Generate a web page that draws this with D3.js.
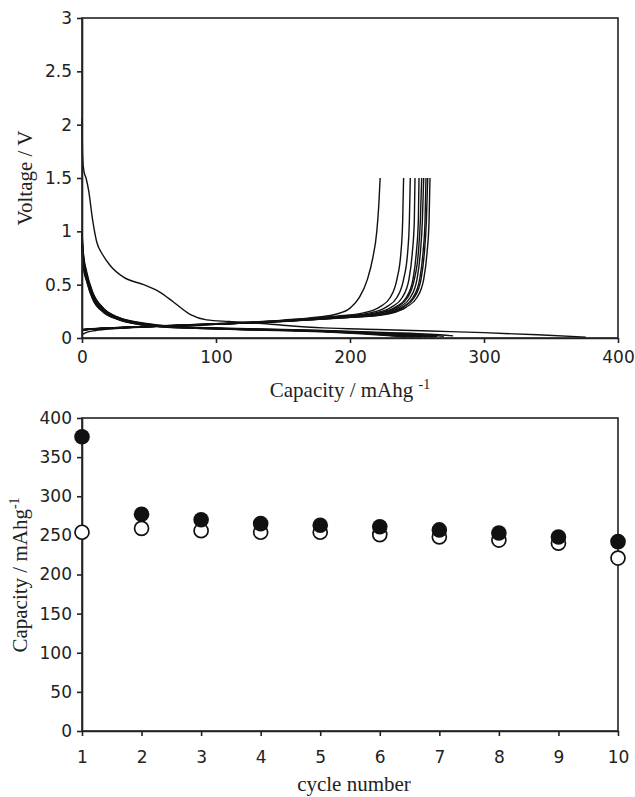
<!DOCTYPE html>
<html>
<head>
<meta charset="utf-8">
<script src="https://cdn.jsdelivr.net/npm/d3@7"></script>
<style>
  body { margin: 0; background: #fff; }
  .tick text { font-family: "DejaVu Sans", sans-serif; font-size: 17px; fill: #222; }
  .title { font-family: "Liberation Serif", "Times New Roman", serif; font-size: 21px; fill: #222; }
</style>
</head>
<body>
<div id="chart"></div>
<script>
// top panel: voltage profiles, [capacity mAh/g, voltage V]
const discharge1 = [[0,2.06],[0.5,1.7],[1.5,1.56],[3,1.5],[5,1.38],[8,1.1],[11,0.9],[15,0.79],[21,0.68],[31,0.57],[46,0.5],[58,0.43],[68,0.34],[81,0.22],[93,0.17],[110,0.155],[130,0.14],[150,0.12],[180,0.095],[220,0.08],[260,0.065],[300,0.05],[340,0.03],[376,0.008]];
const discharge2 = [[0,1.0],[1,0.8],[3.5,0.62],[8,0.43],[16,0.28],[26,0.2],[41,0.15],[58,0.12],[85,0.1],[130,0.085],[180,0.07],[230,0.05],[260,0.035],[277,0.02]];
const discharge3 = [[0,0.97],[1,0.78],[3.5,0.6],[8,0.42],[16,0.275],[26,0.197],[41,0.145],[58,0.117],[85,0.098],[130,0.083],[180,0.068],[225,0.048],[255,0.03],[270,0.015]];
const discharge4 = [[0,0.95],[1,0.76],[3.5,0.59],[8,0.41],[16,0.27],[26,0.195],[41,0.143],[58,0.115],[85,0.097],[130,0.082],[180,0.066],[220,0.047],[250,0.028],[265,0.013]];
const discharge5 = [[0,0.93],[1,0.74],[3.5,0.58],[8,0.4],[16,0.265],[26,0.19],[41,0.14],[58,0.113],[85,0.096],[130,0.081],[180,0.065],[220,0.045],[248,0.026],[263,0.012]];
const discharge6 = [[0,0.92],[1,0.72],[3.5,0.57],[8,0.39],[16,0.26],[26,0.188],[41,0.138],[58,0.112],[85,0.095],[130,0.08],[180,0.064],[220,0.044],[246,0.025],[261,0.011]];
const discharge7 = [[0,0.9],[1,0.71],[3.5,0.56],[8,0.385],[16,0.255],[26,0.185],[41,0.136],[58,0.11],[85,0.094],[130,0.079],[180,0.063],[215,0.045],[242,0.024],[257,0.01]];
const discharge8 = [[0,0.89],[1,0.7],[3.5,0.55],[8,0.38],[16,0.25],[26,0.182],[41,0.134],[58,0.108],[85,0.093],[130,0.078],[180,0.062],[215,0.043],[238,0.023],[253,0.01]];
const discharge9 = [[0,0.87],[1,0.68],[3.5,0.54],[8,0.37],[16,0.245],[26,0.18],[41,0.132],[58,0.107],[85,0.092],[130,0.077],[180,0.06],[210,0.043],[233,0.022],[248,0.009]];
const discharge10 = [[0,0.85],[1,0.66],[3.5,0.53],[8,0.36],[16,0.24],[26,0.177],[41,0.13],[58,0.105],[85,0.09],[130,0.075],[180,0.058],[205,0.042],[228,0.022],[242,0.008]];

const charge1 = [[0,0.03],[3,0.05],[10,0.07],[25,0.088],[50,0.105],[100,0.13],[150,0.158],[185,0.19],[204,0.205],[223,0.235],[235,0.29],[243,0.38],[248,0.55],[251,0.8],[252.5,1.1],[253.5,1.5]];
const charge2 = [[0,0.08],[5,0.085],[20,0.093],[50,0.108],[100,0.128],[150,0.155],[190,0.185],[210,0.2],[230,0.23],[242,0.29],[250,0.38],[255,0.55],[257.5,0.8],[259,1.1],[259.7,1.5]];
const charge3 = [[0,0.078],[5,0.084],[20,0.092],[50,0.107],[100,0.129],[150,0.156],[190,0.187],[208,0.2],[228,0.23],[240,0.29],[248,0.38],[253,0.55],[255.5,0.8],[257,1.1],[258,1.5]];
const charge4 = [[0,0.077],[5,0.083],[20,0.092],[50,0.107],[100,0.13],[150,0.157],[190,0.19],[205,0.2],[225,0.23],[237,0.29],[245,0.38],[250,0.55],[252.5,0.8],[254,1.1],[255,1.5]];
const charge5 = [[0,0.076],[5,0.083],[20,0.091],[50,0.106],[100,0.129],[150,0.156],[190,0.188],[207,0.2],[227,0.23],[239,0.29],[247,0.38],[252,0.55],[254.5,0.8],[256,1.1],[256.7,1.5]];
const charge6 = [[0,0.075],[5,0.082],[20,0.092],[50,0.107],[100,0.13],[150,0.158],[185,0.19],[202,0.2],[222,0.235],[234,0.29],[242,0.38],[247,0.55],[249.5,0.8],[251,1.1],[251.5,1.5]];
const charge7 = [[0,0.074],[5,0.082],[20,0.093],[50,0.108],[100,0.131],[150,0.16],[185,0.192],[199,0.205],[219,0.235],[231,0.29],[239,0.38],[244,0.55],[246.5,0.8],[248,1.1],[248.5,1.5]];
const charge8 = [[0,0.073],[5,0.081],[20,0.093],[50,0.108],[100,0.132],[150,0.162],[180,0.19],[195,0.205],[215,0.235],[227,0.29],[235,0.38],[240,0.55],[243,0.8],[244.3,1.1],[245,1.5]];
const charge9 = [[0,0.072],[5,0.081],[20,0.094],[50,0.109],[100,0.133],[150,0.164],[175,0.188],[190,0.205],[210,0.235],[222,0.29],[230,0.38],[235,0.55],[238,0.8],[239.3,1.1],[240,1.5]];
const charge10 = [[0,0.07],[5,0.08],[20,0.094],[50,0.11],[100,0.135],[150,0.168],[175,0.195],[190,0.225],[200,0.28],[207,0.38],[213,0.55],[217,0.75],[220,1.0],[221.5,1.25],[222.5,1.5]];

const voltageTicks = [0, 0.5, 1, 1.5, 2, 2.5, 3];
const capacityTicks = [0, 100, 200, 300, 400];

// bottom panel: capacity per cycle
const cycles = [1, 2, 3, 4, 5, 6, 7, 8, 9, 10];
const dischargeCap = [376, 277, 270, 265, 263, 261, 257, 253, 248, 242];
const chargeCap = [254, 259, 256, 254, 254, 251, 248, 244, 240, 221];
const cycleCapTicks = [0, 50, 100, 150, 200, 250, 300, 350, 400];

const curves = [discharge1, discharge2, discharge3, discharge4, discharge5, discharge6, discharge7, discharge8, discharge9, discharge10,
  charge1, charge2, charge3, charge4, charge5, charge6, charge7, charge8, charge9, charge10];

const width = 635, height = 797;
const svg = d3.select('#chart').append('svg')
  .attr('width', width)
  .attr('height', height);

const left = 82, right = 618;

function frame(g, x, y, w, h) {
  g.append('rect')
    .attr('x', x).attr('y', y).attr('width', w).attr('height', h)
    .attr('fill', 'none').attr('stroke', '#222').attr('stroke-width', 1.6);
}

function styleAxis(g) {
  g.select('.domain').attr('stroke', '#222').attr('stroke-width', 1.6);
  g.selectAll('.tick line').attr('stroke', '#222').attr('stroke-width', 1.6);
}

// ---- top panel ----
const top1 = 18, bot1 = 338;
const x1 = d3.scaleLinear().domain([0, 400]).range([left, right]);
const y1 = d3.scaleLinear().domain([0, 3]).range([bot1, top1]);

const g1 = svg.append('g');
frame(g1, left, top1, right - left, bot1 - top1);

const line1 = d3.line()
  .x(d => x1(d[0]))
  .y(d => y1(d[1]))
  .curve(d3.curveMonotoneX);

g1.selectAll('path.curve')
  .data(curves)
  .enter()
  .append('path')
  .attr('class', 'curve')
  .attr('d', line1)
  .attr('fill', 'none')
  .attr('stroke', '#111')
  .attr('stroke-width', 1.4);

g1.append('g')
  .attr('transform', `translate(0,${bot1})`)
  .call(d3.axisBottom(x1).tickValues(capacityTicks).tickSize(5).tickSizeOuter(0).tickPadding(8).tickFormat(d3.format('d')))
  .call(styleAxis);

g1.append('g')
  .attr('transform', `translate(${left},0)`)
  .call(d3.axisLeft(y1).tickValues(voltageTicks).tickSize(5).tickSizeOuter(0).tickPadding(5).tickFormat(d => String(d)))
  .call(styleAxis);

const xt1 = g1.append('text')
  .attr('class', 'title')
  .attr('x', 350)
  .attr('y', 397)
  .attr('text-anchor', 'middle');
xt1.append('tspan').text('Capacity / mAhg ');
xt1.append('tspan').attr('dy', -8).attr('font-size', 14).text('-1');

g1.append('text')
  .attr('class', 'title')
  .attr('transform', `translate(32,178) rotate(-90)`)
  .attr('text-anchor', 'middle')
  .text('Voltage / V');

// ---- bottom panel ----
const top2 = 418, bot2 = 731;
const x2 = d3.scaleLinear().domain([1, 10]).range([left, right]);
const y2 = d3.scaleLinear().domain([0, 400]).range([bot2, top2]);

const g2 = svg.append('g');
frame(g2, left, top2, right - left, bot2 - top2);

g2.append('g')
  .attr('transform', `translate(0,${bot2})`)
  .call(d3.axisBottom(x2).tickValues(cycles).tickSize(5).tickSizeOuter(0).tickPadding(15).tickFormat(d3.format('d')))
  .call(styleAxis);

g2.append('g')
  .attr('transform', `translate(${left},0)`)
  .call(d3.axisLeft(y2).tickValues(cycleCapTicks).tickSize(5).tickSizeOuter(0).tickPadding(5).tickFormat(d3.format('d')))
  .call(styleAxis);

g2.selectAll('circle.chg')
  .data(cycles)
  .enter()
  .append('circle')
  .attr('class', 'chg')
  .attr('cx', d => x2(d))
  .attr('cy', (d, i) => y2(chargeCap[i]))
  .attr('r', 7)
  .attr('fill', '#fff')
  .attr('stroke', '#111')
  .attr('stroke-width', 1.7);

g2.selectAll('circle.dis')
  .data(cycles)
  .enter()
  .append('circle')
  .attr('class', 'dis')
  .attr('cx', d => x2(d))
  .attr('cy', (d, i) => y2(dischargeCap[i]))
  .attr('r', 7.8)
  .attr('fill', '#111');

g2.append('text')
  .attr('class', 'title')
  .attr('x', 354)
  .attr('y', 791)
  .attr('text-anchor', 'middle')
  .text('cycle number');

const yt2 = g2.append('text')
  .attr('class', 'title')
  .attr('transform', `translate(27,575) rotate(-90)`)
  .attr('text-anchor', 'middle');
yt2.append('tspan').text('Capacity / mAhg');
yt2.append('tspan').attr('dy', -8).attr('font-size', 14).text('-1');
</script>
</body>
</html>
